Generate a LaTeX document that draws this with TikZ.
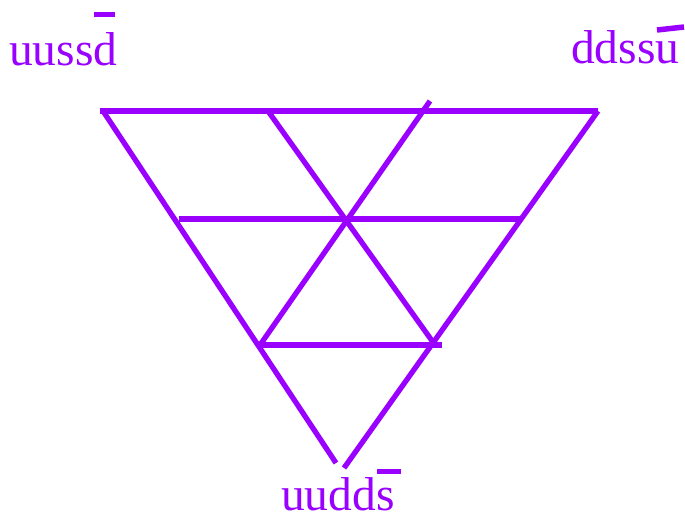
\documentclass[tikz,border=0pt]{standalone}
\usepackage{fontspec}
\setmainfont{Liberation Serif}
\definecolor{vio}{RGB}{153,0,255}
\begin{document}
\begin{tikzpicture}[x=1pt,y=-1pt,
  edge/.style={draw=vio,line width=5.3pt,line cap=butt},
  bar/.style={draw=vio,line width=5.5pt,line cap=butt},
  lab/.style={text=vio,font=\fontsize{47.5}{47.5}\selectfont,inner sep=0pt,anchor=base west}]
\useasboundingbox (0,0) rectangle (685,514);
% corners and points
\coordinate (TL) at (100,111);
\coordinate (TLe) at (103,111);
\coordinate (TR) at (598,111);
\coordinate (BL) at (336,463);
\coordinate (BR) at (344,468);
\coordinate (M1) at (179,219);
\coordinate (M2) at (522,219);
\coordinate (L1) at (259,345);
\coordinate (L2) at (442,345);
\coordinate (A1) at (268,111);
\coordinate (A2) at (435,345);
\coordinate (B1) at (430,101);
\coordinate (B2) at (260,345);
\draw[edge] (TL) -- (TR);
\draw[edge] (TLe) -- (BL);
\draw[edge] (TR) -- (BR);
\draw[edge] (M1) -- (M2);
\draw[edge] (L1) -- (L2);
\draw[edge] (A1) -- (A2);
\draw[edge] (B1) -- (B2);
% labels
\node[lab] (uussd) at (9,65) {uussd};
\node[lab] (ddssu) at (571,63) {ddssu};
\node[lab] (uudds) at (281,510) {uudds};
\coordinate (b1a) at (94,14.5);
\coordinate (b1b) at (115,14.5);
\coordinate (b2a) at (657,30);
\coordinate (b2b) at (684,27);
\coordinate (b3a) at (377,471.5);
\coordinate (b3b) at (401,471.5);
\draw[bar] (b1a) -- (b1b);
\draw[bar] (b2a) -- (b2b);
\draw[bar] (b3a) -- (b3b);
\end{tikzpicture}
\end{document}
